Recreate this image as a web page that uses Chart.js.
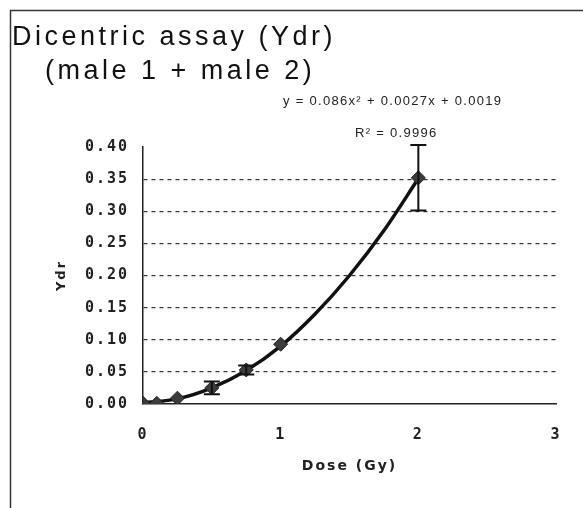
<!DOCTYPE html>
<html>
<head>
<meta charset="utf-8">
<script src="https://cdn.jsdelivr.net/npm/chart.js@4"></script>
<style>
  html, body { margin: 0; padding: 0; background: #fff; }
  #wrap { width: 583px; height: 508px; position: relative; }
</style>
</head>
<body>
<div id="wrap"><canvas id="doseChart" width="583" height="508"></canvas></div>
<script>
// measured points (dose in Gy, dicentric yield)
const doses = [0, 0.1, 0.25, 0.5, 0.75, 1, 2];
const ydr = [0.001, 0.001, 0.009, 0.025, 0.053, 0.093, 0.352];
const ydrErr = [0, 0, 0, 0.01, 0.007, 0, 0.051];

// trend line
const trendDoses = [0, 0.25, 0.5, 0.75, 1, 1.25, 1.5, 1.75, 2];
const trendYdr = [0.002, 0.008, 0.025, 0.052, 0.090, 0.140, 0.200, 0.270, 0.351];

const yTicks = [0, 0.05, 0.1, 0.15, 0.2, 0.25, 0.3, 0.35, 0.4];
const xTicks = [0, 1, 2, 3];

const titleLines = ["Dicentric assay (Ydr)", "(male 1 + male 2)"];
const equationText = "y = 0.086x\u00B2 + 0.0027x + 0.0019";
const rSquaredText = "R\u00B2 = 0.9996";

const ctx = document.getElementById("doseChart").getContext("2d");

// frame + title + equation labels
const decorPlugin = {
  id: "decor",
  beforeDraw(chart) {
    const c = chart.ctx;
    c.save();
    c.fillStyle = "#fff";
    c.fillRect(0, 0, chart.width, chart.height);
    c.strokeStyle = "#333";
    c.lineWidth = 1.5;
    c.beginPath();
    c.moveTo(10.5, 508);
    c.lineTo(10.5, 10.5);
    c.lineTo(583, 10.5);
    c.stroke();
    c.restore();
    // axis text in the picture is widely spaced
    c.letterSpacing = "2px";
  },
  afterDraw(chart) {
    const c = chart.ctx;
    c.save();
    c.fillStyle = "#111";
    c.textBaseline = "middle";
    c.textAlign = "left";
    c.letterSpacing = "3.5px";
    c.font = "27px 'Liberation Sans', Arial, sans-serif";
    c.fillText(titleLines[0], 12, 38);
    c.fillText(titleLines[1], 45, 72);
    c.letterSpacing = "1.3px";
    c.font = "13px 'Liberation Sans', Arial, sans-serif";
    c.fillStyle = "#222";
    c.fillText(equationText, 283, 101);
    c.fillText(rSquaredText, 355, 133);
    c.restore();
  }
};

// vertical error bars drawn through the chart scales
const errorBarPlugin = {
  id: "errorBars",
  afterDatasetsDraw(chart) {
    const xs = chart.scales.x;
    const ys = chart.scales.y;
    const c = chart.ctx;
    c.save();
    c.strokeStyle = "#111";
    c.lineWidth = 2;
    doses.forEach((d, i) => {
      if (!ydrErr[i]) return;
      const px = xs.getPixelForValue(d);
      const top = ys.getPixelForValue(ydr[i] + ydrErr[i]);
      const bot = ys.getPixelForValue(Math.max(0, ydr[i] - ydrErr[i]));
      c.beginPath();
      c.moveTo(px, top);
      c.lineTo(px, bot);
      c.moveTo(px - 8, top);
      c.lineTo(px + 8, top);
      c.moveTo(px - 8, bot);
      c.lineTo(px + 8, bot);
      c.stroke();
    });
    c.restore();
  }
};

new Chart(ctx, {
  type: "scatter",
  data: {
    datasets: [
      {
        label: "fit",
        data: trendDoses.map((d, i) => ({ x: d, y: trendYdr[i] })),
        showLine: true,
        borderColor: "#111",
        borderWidth: 3.5,
        pointRadius: 0,
        cubicInterpolationMode: "monotone",
        order: 2
      },
      {
        label: "Ydr",
        data: doses.map((d, i) => ({ x: d, y: ydr[i] })),
        pointStyle: "rectRot",
        pointRadius: 7,
        backgroundColor: "#3c3c3c",
        borderColor: "#222",
        borderWidth: 1,
        order: 1
      }
    ]
  },
  options: {
    responsive: false,
    animation: false,
    devicePixelRatio: 1,
    layout: { padding: { top: 147, right: 27, left: 0, bottom: 0 } },
    plugins: {
      legend: { display: false },
      tooltip: { enabled: false }
    },
    scales: {
      x: {
        type: "linear",
        min: 0,
        max: 3,
        afterBuildTicks: scale => { scale.ticks = xTicks.map(v => ({ value: v })); },
        afterFit: scale => { scale.height = 104; },
        grid: { display: false, drawTicks: false },
        border: { display: true, color: "#222", width: 1.5 },
        ticks: {
          padding: 22,
          color: "#222",
          font: { family: "'DejaVu Sans Mono', monospace", size: 15, weight: "bold" }
        },
        title: {
          display: true,
          text: "Dose (Gy)",
          color: "#222",
          padding: { top: 0, bottom: 33 },
          font: { family: "'DejaVu Sans', sans-serif", size: 14, weight: "bold" }
        }
      },
      y: {
        min: 0,
        max: 0.4,
        afterBuildTicks: scale => { scale.ticks = yTicks.map(v => ({ value: v })); },
        afterFit: scale => { scale.width = 143; },
        grid: {
          drawTicks: false,
          color: c => (c.tick && c.tick.value > 0.001 && c.tick.value < 0.399 ? "#333" : "rgba(0,0,0,0)"),
          lineWidth: 1.2
        },
        border: { display: true, color: "#222", width: 1.5, dash: [4, 4] },
        ticks: {
          padding: 14,
          color: "#222",
          callback: v => v.toFixed(2),
          font: { family: "'DejaVu Sans Mono', monospace", size: 15, weight: "bold" }
        },
        title: {
          display: true,
          text: "Ydr",
          color: "#222",
          padding: { top: 54, bottom: 0 },
          font: { family: "'DejaVu Sans', sans-serif", size: 13, weight: "bold" }
        }
      }
    }
  },
  plugins: [decorPlugin, errorBarPlugin]
});
</script>
</body>
</html>
